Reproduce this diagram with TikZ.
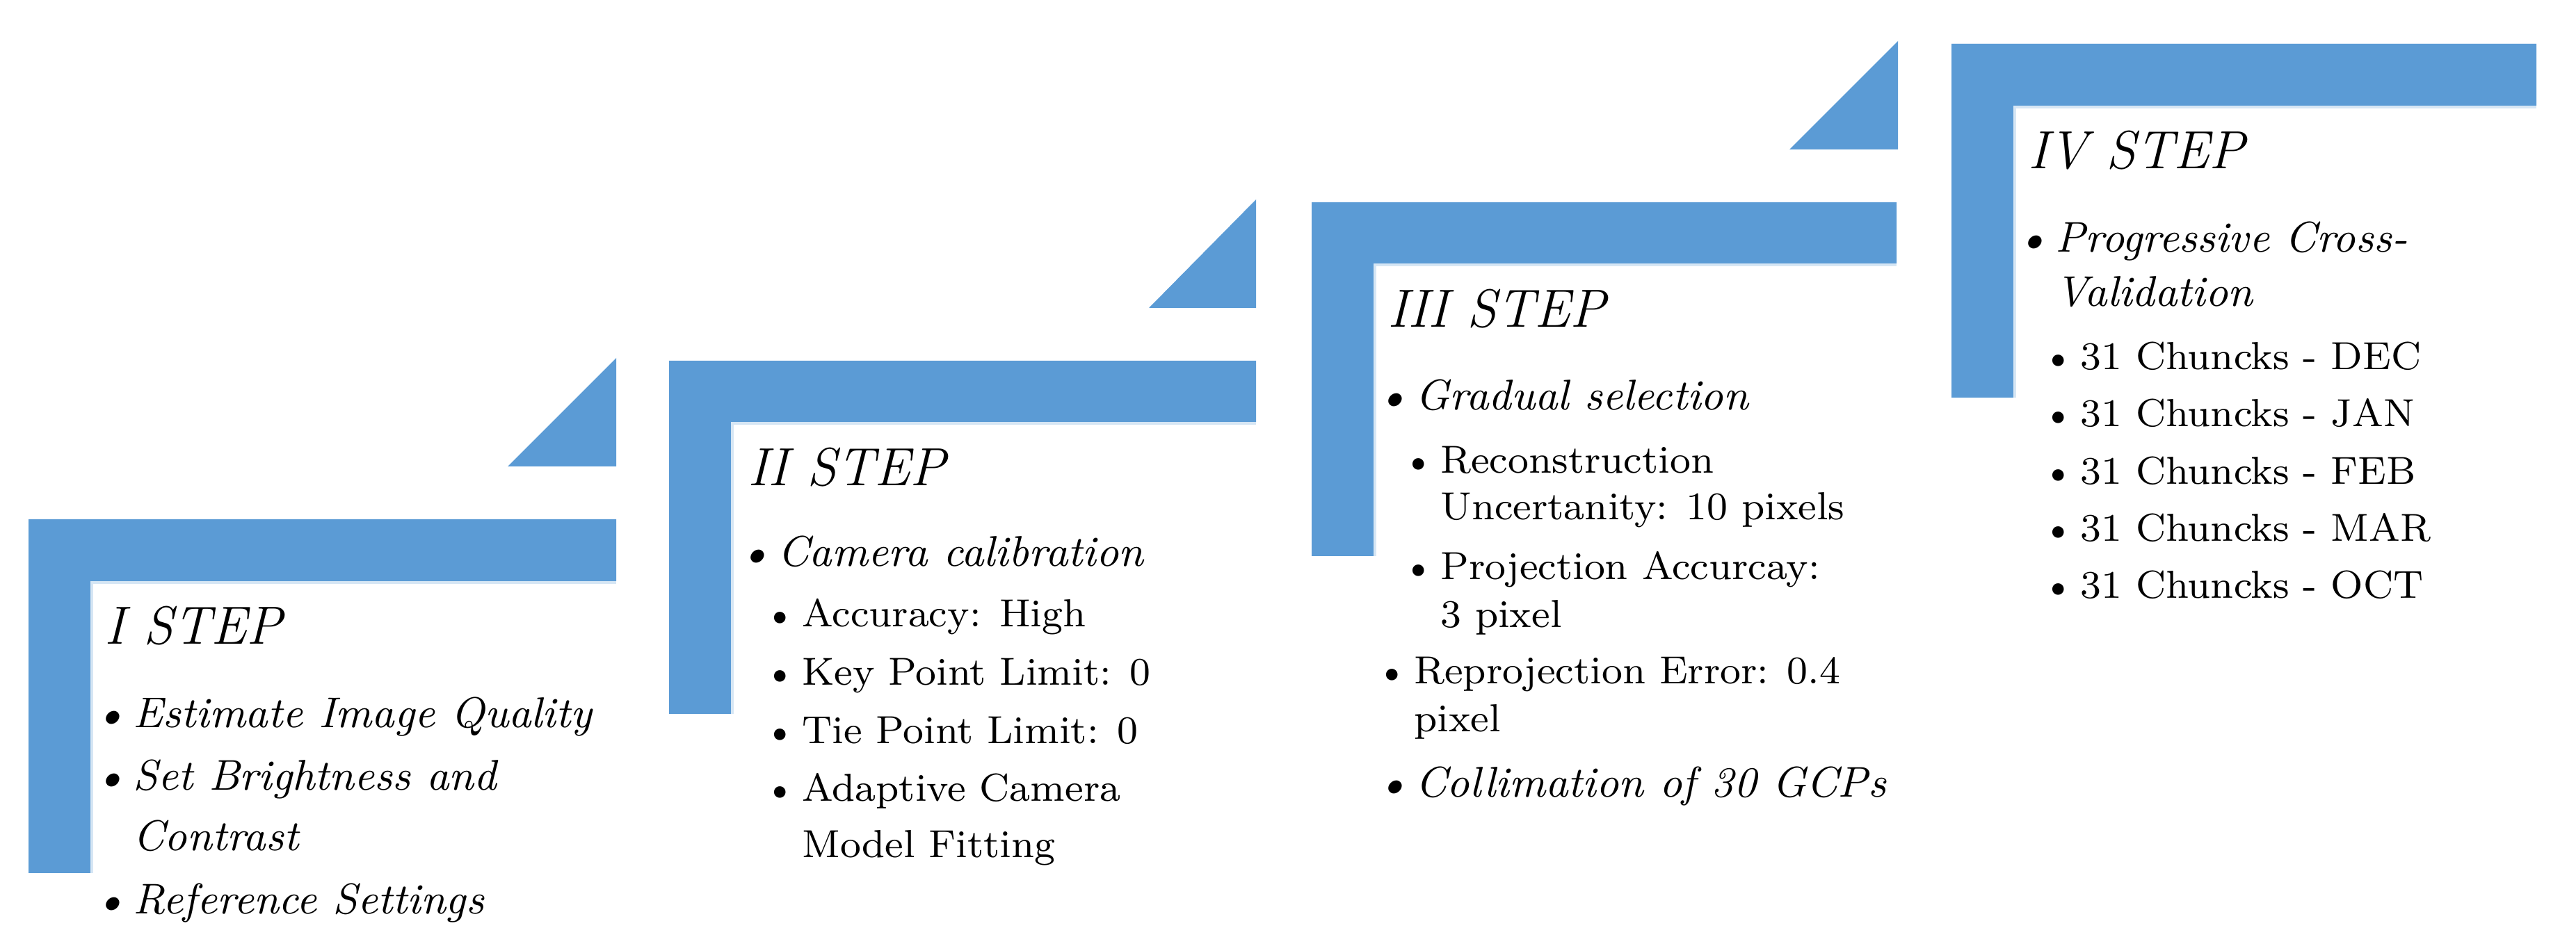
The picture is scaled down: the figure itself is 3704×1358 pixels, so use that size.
\documentclass[tikz,border=0pt]{standalone}
\usepackage{tikz}

\definecolor{stepblue}{HTML}{5B9BD5}
\definecolor{rimblue}{HTML}{D6E6F4}
\newcommand{\bul}{\llap{\textbullet\hspace{1.2pt}}}

\tikzset{
  head/.style={anchor=base west, inner sep=0pt, font=\fontsize{11}{13}\selectfont\itshape},
  itm/.style={anchor=base west, inner sep=0pt, font=\fontsize{8.8}{10}\selectfont\itshape},
  sub/.style={anchor=base west, inner sep=0pt, font=\fontsize{8}{10}\selectfont},
  frame/.style={fill=stepblue},
  rim/.style={draw=rimblue, line width=0.2mm}
}

\begin{document}
\begin{tikzpicture}[x=0.05mm, y=-0.05mm]
  \useasboundingbox (0,0) rectangle (3704,1358);

  % -- I STEP frame --
  \fill[frame] (41,747) -- (886,747) -- (886,836) -- (130,836) -- (130,1256) -- (41,1256) -- cycle;
  \draw[rim] (886,838) -- (132,838) -- (132,1256);
  \fill[frame] (730,671) -- (886,671) -- (886,515) -- cycle;

  % -- II STEP frame --
  \fill[frame] (962,519) -- (1806,519) -- (1806,607) -- (1051,607) -- (1051,1027) -- (962,1027) -- cycle;
  \draw[rim] (1806,609) -- (1053,609) -- (1053,1027);
  \fill[frame] (1652,443) -- (1806,443) -- (1806,287) -- cycle;

  % -- III STEP frame --
  \fill[frame] (1886,291) -- (2727,291) -- (2727,379) -- (1975,379) -- (1975,800) -- (1886,800) -- cycle;
  \draw[rim] (2727,381) -- (1977,381) -- (1977,800);
  \fill[frame] (2573,215) -- (2729,215) -- (2729,59) -- cycle;

  % -- IV STEP frame --
  \fill[frame] (2806,63) -- (3647,63) -- (3647,152) -- (2895,152) -- (2895,572) -- (2806,572) -- cycle;
  \draw[rim] (3647,154) -- (2897,154) -- (2897,572);

  % -- I STEP text --
  \node[head] (h1) at (149,927) {I STEP};
  \node[itm] (a1) at (190,1047) {\bul Estimate Image Quality};
  \node[itm] (a2) at (190,1137) {\bul Set Brightness and};
  \node[itm] (a2b) at (190,1224) {Contrast};
  \node[itm] (a3) at (190,1314) {\bul Reference Settings};

  % -- II STEP text --
  \node[head] (h2) at (1074,699) {II STEP};
  \node[itm] (b1) at (1117,815) {\bul Camera calibration};
  \node[sub] (b2) at (1152,902) {\bul Accuracy: High};
  \node[sub] (b3) at (1152,986) {\bul Key Point Limit: 0};
  \node[sub] (b4) at (1152,1070) {\bul Tie Point Limit: 0};
  \node[sub] (b5) at (1152,1153) {\bul Adaptive Camera};
  \node[sub] (b5b) at (1152,1234) {Model Fitting};

  % -- III STEP text --
  \node[head] (h3) at (1994,471) {III STEP};
  \node[itm] (c1) at (2034,590) {\bul Gradual selection};
  \node[sub] (c2) at (2070,681) {\bul Reconstruction};
  \node[sub] (c2b) at (2070,748) {Uncertanity: 10 pixels};
  \node[sub] (c3) at (2070,834) {\bul Projection Accurcay:};
  \node[sub] (c3b) at (2070,903) {3 pixel};
  \node[sub] (c4) at (2032,984) {\bul Reprojection Error: 0.4};
  \node[sub] (c4b) at (2032,1053) {pixel};
  \node[itm] (c5) at (2034,1147) {\bul Collimation of 30 GCPs};

  % -- IV STEP text --
  \node[head] (h4) at (2915,243) {IV STEP};
  \node[itm] (d1) at (2954,363) {\bul Progressive Cross-};
  \node[itm] (d1b) at (2954,441) {Validation};
  \node[sub] (d2) at (2990,532) {\bul 31 Chuncks - DEC};
  \node[sub] (d3) at (2990,614) {\bul 31 Chuncks - JAN};
  \node[sub] (d4) at (2990,697) {\bul 31 Chuncks - FEB};
  \node[sub] (d5) at (2990,779) {\bul 31 Chuncks - MAR};
  \node[sub] (d6) at (2990,861) {\bul 31 Chuncks - OCT};

\end{tikzpicture}
\end{document}
